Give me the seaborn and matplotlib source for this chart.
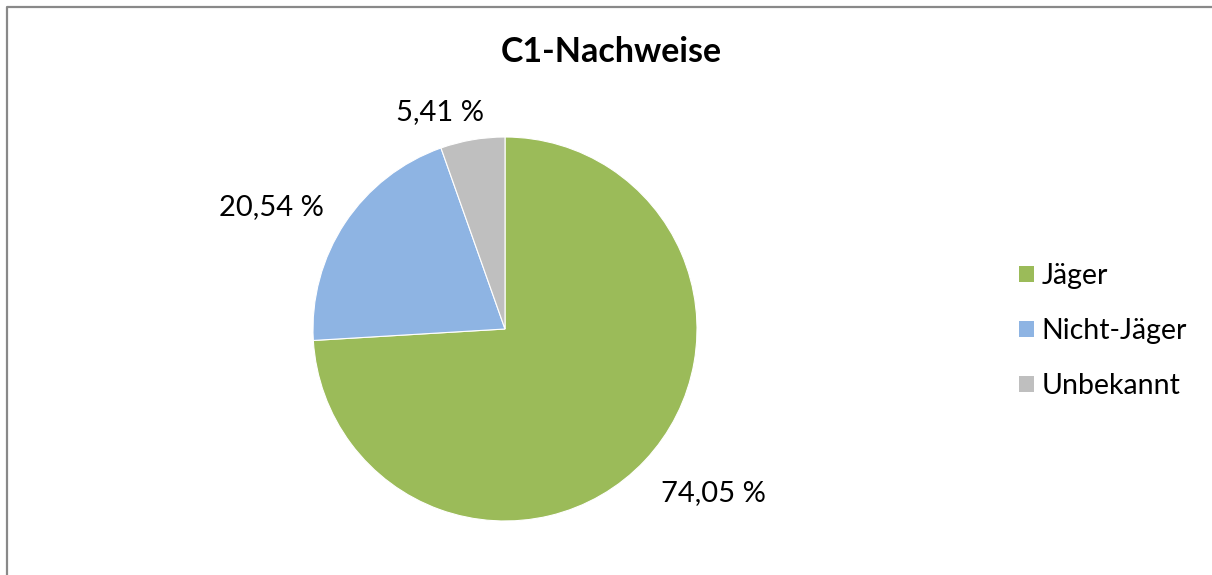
import numpy as np
import matplotlib
matplotlib.use("Agg")
import matplotlib.pyplot as plt
from matplotlib.lines import Line2D
from matplotlib.patches import Patch
import seaborn as sns

# data
cats=["Jäger","Nicht-Jäger","Unbekannt"]
vals=[74.05,20.54,5.41]
pcts=["74,05 %","20,54 %","5,41 %"]
cols=["#9BBB59","#8EB4E3","#BFBFBF"]

sns.set_theme(style="white")
plt.rcParams['font.family']=['Lato','DejaVu Sans']
plt.rcParams['text.color']="#000000"

fg=plt.figure(figsize=(12.12,5.75),dpi=100)
W,H=1212,575
R=192  #pie radius px
cx,cy=505,329
ax=fg.add_axes([(cx-1.5*R)/W,(H-cy-1.5*R)/H,3*R/W,3*R/H])
wedges,_=ax.pie(vals,colors=sns.color_palette(cols),startangle=90,counterclock=False,
    wedgeprops=dict(edgecolor="white",linewidth=0.8))
ax.set_xlim(-1.5,1.5)
ax.set_ylim(-1.5,1.5)
ax.set_aspect("equal")
ax.axis("off")

#label distance/angle nudges (excel "best fit")
dist=[1.38,1.37,1.18]
nudge=[5,6,7]
for w,p,d,n in zip(wedges,pcts,dist,nudge):
    a=np.deg2rad((w.theta1+w.theta2)/2+n)
    ax.text(d*np.cos(a),d*np.sin(a),p,ha="center",va="center",fontsize=21,color="#000000")

fg.text(611/W,1-52/H,"C1-Nachweise",ha="center",va="center",fontsize=24.5,fontweight="bold",color="#000000")

hd=[Patch(facecolor=c,edgecolor="none") for c in cols]
fg.legend(hd,cats,loc="center left",bbox_to_anchor=(1019/W,1-331/H),frameon=False,
    fontsize=20.5,handlelength=0.52,handleheight=0.52,handletextpad=0.28,labelspacing=1.02,
    borderpad=0,borderaxespad=0,labelcolor="#000000")

#chart frame (left+top visible)
fg.add_artist(Line2D([7/W,7/W,1],[0,1-7/H,1-7/H],color="#898989",lw=1.6,transform=fg.transFigure))

fg.savefig("out.png",dpi=100)
